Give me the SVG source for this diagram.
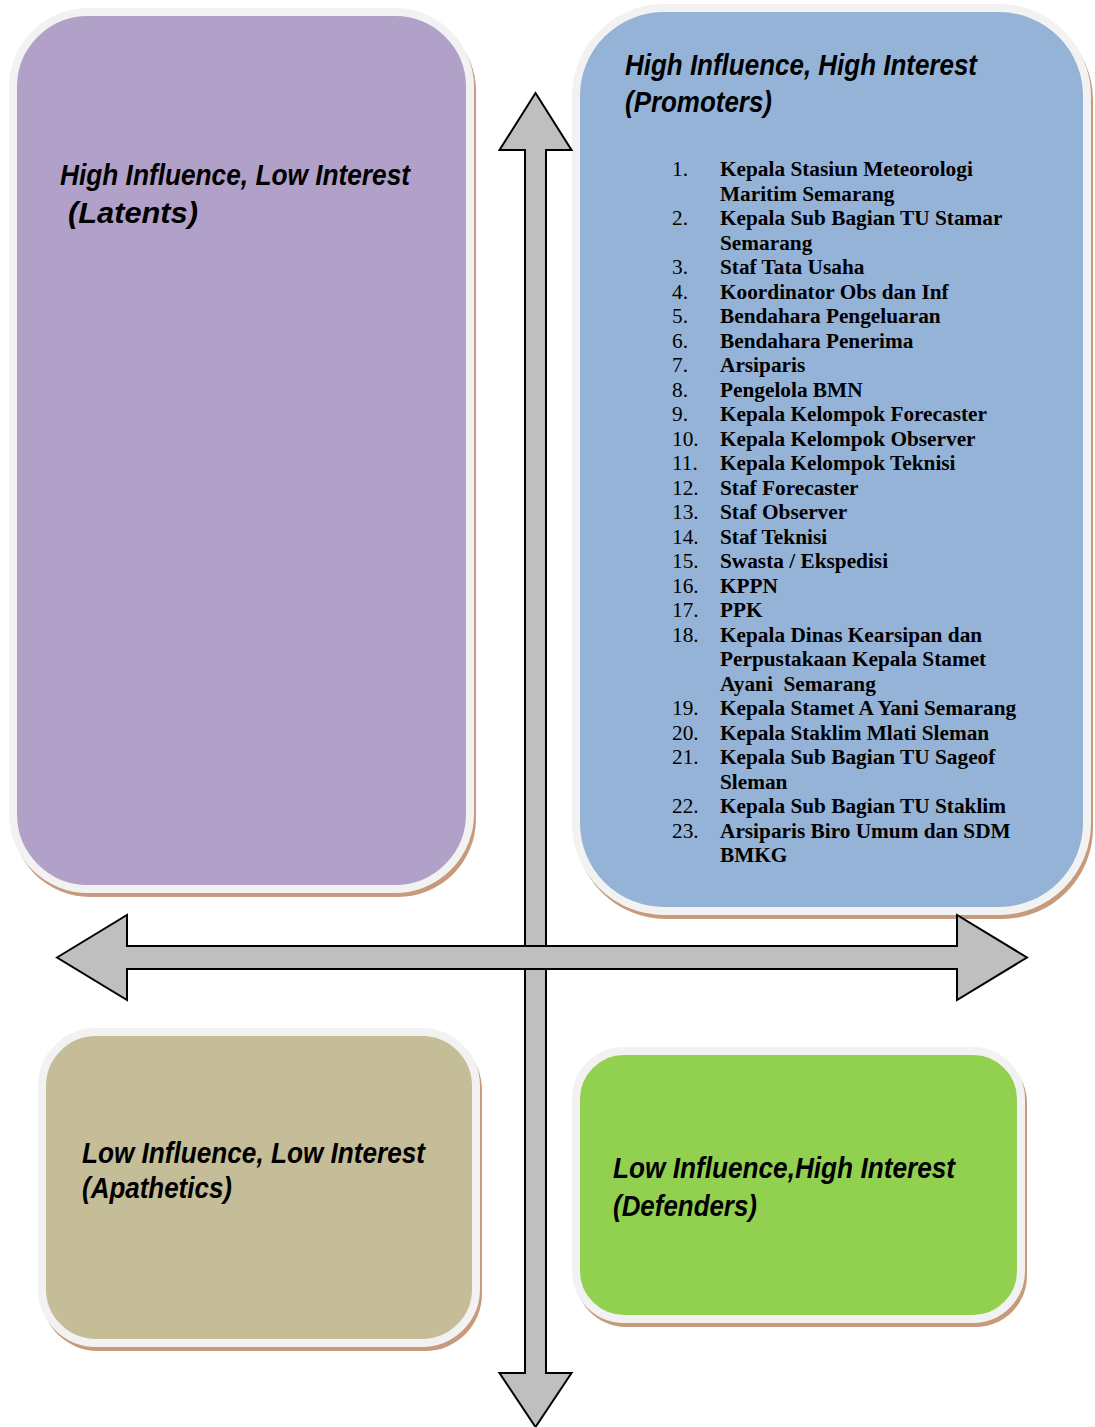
<svg xmlns="http://www.w3.org/2000/svg" width="1095" height="1427" viewBox="0 0 1095 1427">
  <style>
    .card { stroke: #f2f2f2; stroke-width: 8; }
    .shadow { fill: #c89a7b; filter: url(#soft); }
    .title { font-family: "Liberation Sans", Arial, sans-serif; font-weight: bold; font-style: italic; font-size: 30px; fill: #000; }
    .num { font-family: "Liberation Serif", "Times New Roman", serif; font-size: 21.3px; fill: #000; }
    .item { font-family: "Liberation Serif", "Times New Roman", serif; font-weight: bold; font-size: 21.3px; fill: #000; }
    .axis { fill: #bfbfbf; stroke: #000; stroke-width: 2; stroke-linejoin: miter; }
  </style>
  <defs>
    <filter id="soft" x="-5%" y="-5%" width="110%" height="110%">
      <feGaussianBlur stdDeviation="0.6"/>
    </filter>
  </defs>

  <rect width="1095" height="1427" fill="#ffffff"/>

  <!-- Quadrant: high influence, low interest -->
  <g id="latents">
    <rect class="shadow" x="12" y="13" width="464" height="884" rx="78"/>
    <rect class="card" x="13" y="12" width="457" height="877" rx="75" fill="#b1a0c7"/>
    <text class="title" x="60" y="185" textLength="350" lengthAdjust="spacingAndGlyphs">High Influence, Low Interest</text>
    <text class="title" x="68" y="223" textLength="130" lengthAdjust="spacingAndGlyphs">(Latents)</text>
  </g>

  <!-- Quadrant: high influence, high interest -->
  <g id="promoters">
    <rect class="shadow" x="575" y="9" width="518" height="910" rx="91"/>
    <rect class="card" x="576" y="8" width="511" height="903" rx="88" fill="#95b3d7"/>
    <text class="title" x="625" y="75" textLength="352" lengthAdjust="spacingAndGlyphs">High Influence, High Interest</text>
    <text class="title" x="625" y="112" textLength="147" lengthAdjust="spacingAndGlyphs">(Promoters)</text>
    <g id="promoter-list">
      <text class="num" x="672" y="176">1.</text><text class="item" x="720" y="176">Kepala Stasiun Meteorologi</text>
      <text class="item" x="720" y="200.5">Maritim Semarang</text>
      <text class="num" x="672" y="225">2.</text><text class="item" x="720" y="225">Kepala Sub Bagian TU Stamar</text>
      <text class="item" x="720" y="249.5">Semarang</text>
      <text class="num" x="672" y="274">3.</text><text class="item" x="720" y="274">Staf Tata Usaha</text>
      <text class="num" x="672" y="298.5">4.</text><text class="item" x="720" y="298.5">Koordinator Obs dan Inf</text>
      <text class="num" x="672" y="323">5.</text><text class="item" x="720" y="323">Bendahara Pengeluaran</text>
      <text class="num" x="672" y="347.5">6.</text><text class="item" x="720" y="347.5">Bendahara Penerima</text>
      <text class="num" x="672" y="372">7.</text><text class="item" x="720" y="372">Arsiparis</text>
      <text class="num" x="672" y="396.5">8.</text><text class="item" x="720" y="396.5">Pengelola BMN</text>
      <text class="num" x="672" y="421">9.</text><text class="item" x="720" y="421">Kepala Kelompok Forecaster</text>
      <text class="num" x="672" y="445.5">10.</text><text class="item" x="720" y="445.5">Kepala Kelompok Observer</text>
      <text class="num" x="672" y="470">11.</text><text class="item" x="720" y="470">Kepala Kelompok Teknisi</text>
      <text class="num" x="672" y="494.5">12.</text><text class="item" x="720" y="494.5">Staf Forecaster</text>
      <text class="num" x="672" y="519">13.</text><text class="item" x="720" y="519">Staf Observer</text>
      <text class="num" x="672" y="543.5">14.</text><text class="item" x="720" y="543.5">Staf Teknisi</text>
      <text class="num" x="672" y="568">15.</text><text class="item" x="720" y="568">Swasta / Ekspedisi</text>
      <text class="num" x="672" y="592.5">16.</text><text class="item" x="720" y="592.5">KPPN</text>
      <text class="num" x="672" y="617">17.</text><text class="item" x="720" y="617">PPK</text>
      <text class="num" x="672" y="641.5">18.</text><text class="item" x="720" y="641.5">Kepala Dinas Kearsipan dan</text>
      <text class="item" x="720" y="666">Perpustakaan Kepala Stamet</text>
      <text class="item" x="720" y="690.5" xml:space="preserve">Ayani  Semarang</text>
      <text class="num" x="672" y="715">19.</text><text class="item" x="720" y="715">Kepala Stamet A Yani Semarang</text>
      <text class="num" x="672" y="739.5">20.</text><text class="item" x="720" y="739.5">Kepala Staklim Mlati Sleman</text>
      <text class="num" x="672" y="764">21.</text><text class="item" x="720" y="764">Kepala Sub Bagian TU Sageof</text>
      <text class="item" x="720" y="788.5">Sleman</text>
      <text class="num" x="672" y="813">22.</text><text class="item" x="720" y="813">Kepala Sub Bagian TU Staklim</text>
      <text class="num" x="672" y="837.5">23.</text><text class="item" x="720" y="837.5">Arsiparis Biro Umum dan SDM</text>
      <text class="item" x="720" y="862">BMKG</text>
    </g>
  </g>

  <!-- Quadrant: low influence, low interest -->
  <g id="apathetics">
    <rect class="shadow" x="41" y="1033" width="441" height="318" rx="57"/>
    <rect class="card" x="42" y="1032" width="434" height="311" rx="54" fill="#c4bd97"/>
    <text class="title" x="82" y="1163" textLength="343" lengthAdjust="spacingAndGlyphs">Low Influence, Low Interest</text>
    <text class="title" x="82" y="1198" textLength="150" lengthAdjust="spacingAndGlyphs">(Apathetics)</text>
  </g>

  <!-- Quadrant: low influence, high interest -->
  <g id="defenders">
    <rect class="shadow" x="575" y="1052" width="452" height="275" rx="51"/>
    <rect class="card" x="576" y="1051" width="445" height="268" rx="48" fill="#92d050"/>
    <text class="title" x="613" y="1178" textLength="342" lengthAdjust="spacingAndGlyphs">Low Influence,High Interest</text>
    <text class="title" x="613" y="1216" textLength="144" lengthAdjust="spacingAndGlyphs">(Defenders)</text>
  </g>

  <!-- Axes: interest (vertical) and influence (horizontal), both double-headed -->
  <g id="axes">
    <polygon class="axis" points="535.5,93 571.5,150 546,150 546,1373 571.5,1373 535.5,1427 499.5,1373 525,1373 525,150 499.5,150"/>
    <polygon class="axis" points="57,957.5 127,915 127,946 957,946 957,915 1027,957.5 957,1000 957,969 127,969 127,1000"/>
  </g>
</svg>
